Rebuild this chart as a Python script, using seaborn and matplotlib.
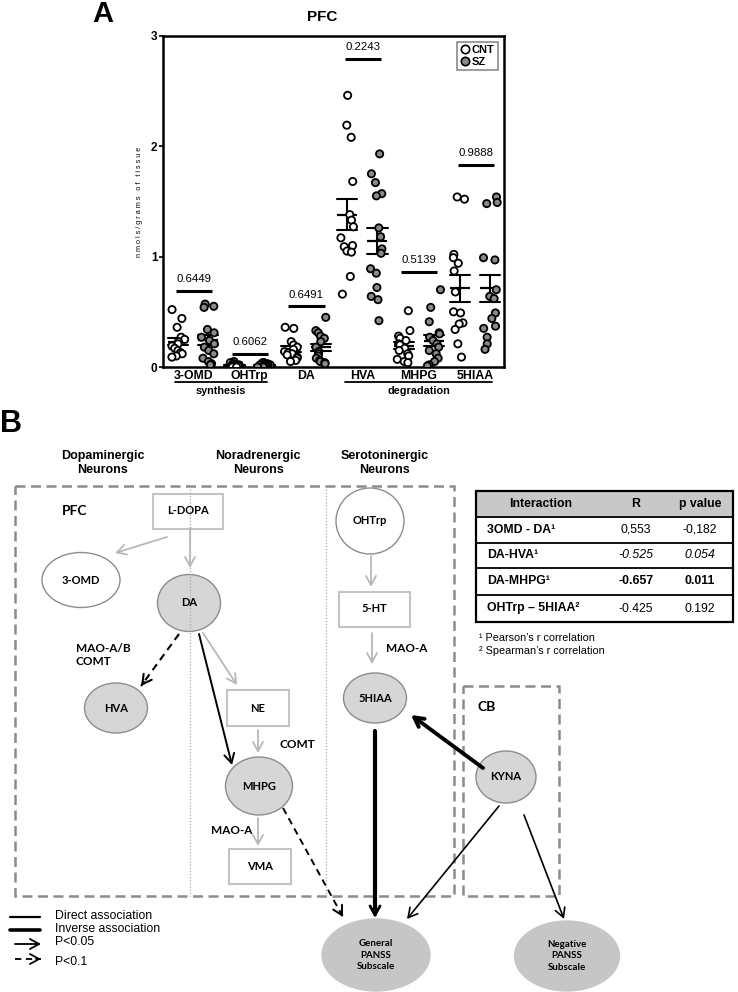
import warnings
import numpy as np
import pandas as pd
import seaborn as sns
import matplotlib.pyplot as plt
from matplotlib.patches import Ellipse, Rectangle
from matplotlib.lines import Line2D
from matplotlib.transforms import blended_transform_factory

warnings.filterwarnings('ignore')

# ---- panel A: metabolite levels (nmol/g tissue) ----
metabolites = ['3-OMD', 'OHTrp', 'DA', 'HVA', 'MHPG', '5HIAA']
groups = ['CNT', 'SZ']

omd_cnt = [0.52, 0.44, 0.36, 0.27, 0.25, 0.23, 0.21, 0.19, 0.17, 0.15, 0.13, 0.12, 0.10, 0.09]
omd_sz = [0.57, 0.55, 0.54, 0.34, 0.31, 0.27, 0.24, 0.21, 0.18, 0.15, 0.12, 0.08, 0.05, 0.03, 0.02]
ohtrp_cnt = [0.05, 0.04, 0.03, 0.03, 0.02, 0.02, 0.02, 0.01, 0.01, 0.01, 0.01, 0.00, 0.00, 0.00]
ohtrp_sz = [0.04, 0.04, 0.03, 0.03, 0.02, 0.02, 0.02, 0.01, 0.01, 0.01, 0.00, 0.00, 0.00]
da_cnt = [0.36, 0.35, 0.23, 0.20, 0.18, 0.16, 0.14, 0.13, 0.12, 0.11, 0.09, 0.08, 0.06, 0.05]
da_sz = [0.45, 0.33, 0.31, 0.28, 0.26, 0.23, 0.18, 0.14, 0.12, 0.10, 0.08, 0.06, 0.05, 0.04, 0.03]
hva_cnt = [2.46, 2.19, 2.08, 1.68, 1.38, 1.33, 1.27, 1.17, 1.10, 1.09, 1.05, 1.04, 0.82, 0.66]
hva_sz = [1.93, 1.75, 1.67, 1.57, 1.55, 1.26, 1.18, 1.07, 1.03, 0.89, 0.85, 0.72, 0.64, 0.61, 0.42]
mhpg_cnt = [0.51, 0.33, 0.28, 0.26, 0.24, 0.21, 0.20, 0.17, 0.15, 0.12, 0.10, 0.07, 0.05, 0.04]
mhpg_sz = [0.70, 0.54, 0.41, 0.31, 0.30, 0.27, 0.24, 0.21, 0.18, 0.15, 0.12, 0.08, 0.05, 0.02, 0.01]
hiaa_cnt = [1.54, 1.52, 1.02, 0.99, 0.94, 0.87, 0.68, 0.50, 0.49, 0.40, 0.39, 0.34, 0.21, 0.09]
hiaa_sz = [1.54, 1.49, 1.48, 0.99, 0.97, 0.70, 0.64, 0.62, 0.49, 0.44, 0.37, 0.35, 0.27, 0.21, 0.16]

p_values = ['0.6449', '0.6062', '0.6491', '0.2243', '0.5139', '0.9888']

# ---- panel B: correlation table ----
table_pairs = ['3OMD - DA\u00b9', 'DA-HVA\u00b9', 'DA-MHPG\u00b9', 'OHTrp \u2013 5HIAA\u00b2']
table_r = ['0,553', '-0.525', '-0.657', '-0.425']
table_p = ['-0,182', '0.054', '0.011', '0.192']

values = {
    ('3-OMD', 'CNT'): omd_cnt, ('3-OMD', 'SZ'): omd_sz,
    ('OHTrp', 'CNT'): ohtrp_cnt, ('OHTrp', 'SZ'): ohtrp_sz,
    ('DA', 'CNT'): da_cnt, ('DA', 'SZ'): da_sz,
    ('HVA', 'CNT'): hva_cnt, ('HVA', 'SZ'): hva_sz,
    ('MHPG', 'CNT'): mhpg_cnt, ('MHPG', 'SZ'): mhpg_sz,
    ('5HIAA', 'CNT'): hiaa_cnt, ('5HIAA', 'SZ'): hiaa_sz,
}
rows = []
for (m, g), vals in values.items():
    for v in vals:
        rows.append({'metabolite': m, 'group': g, 'value': v})
df = pd.DataFrame(rows)

sns.set_theme(style='white')
plt.rcParams['font.family'] = ['Liberation Sans', 'DejaVu Sans']
plt.rcParams['text.color'] = 'black'
plt.rcParams['axes.labelcolor'] = 'black'
plt.rcParams['xtick.color'] = 'black'
plt.rcParams['ytick.color'] = 'black'
LATO = ['Lato', 'DejaVu Sans']

np.random.seed(7)
fig = plt.figure(figsize=(7.38, 9.92), dpi=100)

# ================= panel A =================
ax = fig.add_axes([0.221, 0.630, 0.462, 0.334])
# an empty middle hue level keeps each cloud narrow and the pair well apart
sns.stripplot(data=df, x='metabolite', y='value', hue='group', order=metabolites,
              hue_order=['CNT', 'gap', 'SZ'], dodge=True, jitter=0.37,
              palette={'CNT': 'white', 'gap': 'white', 'SZ': '#8a8a8a'}, size=5.2,
              linewidth=1.3, edgecolor='black', legend=False, ax=ax)
sns.pointplot(data=df, x='metabolite', y='value', hue='group', order=metabolites,
              hue_order=groups, dodge=0.533, errorbar='se',
              palette={'CNT': 'black', 'SZ': 'black'}, markers='_', linestyles='none',
              markersize=15, markeredgewidth=1.6, capsize=0.36,
              err_kws={'linewidth': 1.5}, legend=False, ax=ax)

ax.set_xlim(-0.53, 5.51)
ax.set_ylim(0, 3)
ax.set_yticks([0, 1, 2, 3])
ax.set_yticklabels(['0', '1', '2', '3'], fontweight='bold', fontsize=8.5)
ax.set_xticks(range(len(metabolites)))
ax.set_xticklabels(metabolites, fontweight='bold', fontsize=8.8)
ax.tick_params(axis='x', length=0, pad=2)
ax.tick_params(axis='y', length=3, width=1.2, left=True, pad=1)
ax.set_xlabel('')
ax.set_ylabel('n m o l s / g r a m s   o f   t i s s u e', fontsize=5.2, labelpad=6)
for sp in ax.spines.values():
    sp.set_visible(True)
    sp.set_color('black')
    sp.set_linewidth(1.8)

# p-value brackets over each CNT/SZ pair
bracket_y = [0.69, 0.12, 0.55, 2.79, 0.86, 1.83]
for i, (p, yb) in enumerate(zip(p_values, bracket_y)):
    x0, x1 = i - 0.31, i + 0.33
    ax.plot([x0, x1], [yb, yb], color='black', lw=2.2, solid_capstyle='butt')
    ax.text((x0 + x1) / 2, yb + 0.06, p, ha='center', va='bottom', fontsize=8.2)

handles = [Line2D([], [], marker='o', ls='none', markerfacecolor='white', markeredgecolor='black',
                  markeredgewidth=1.2, markersize=6),
           Line2D([], [], marker='o', ls='none', markerfacecolor='#8a8a8a', markeredgecolor='black',
                  markeredgewidth=1.2, markersize=6)]
leg = ax.legend(handles, groups, loc='upper right', bbox_to_anchor=(0.982, 0.982), fancybox=False,
                edgecolor='#6e6e6e', prop={'weight': 'bold', 'size': 8}, handlelength=0.8,
                handletextpad=0.2, labelspacing=0.15, borderpad=0.3, borderaxespad=0)
leg.get_frame().set_linewidth(1.2)

# group brackets under the x axis
tr = blended_transform_factory(ax.transData, ax.transAxes)
for label, x0, x1 in [('synthesis', -0.32, 1.31), ('degradation', 2.7, 5.3)]:
    ax.plot([x0, x1], [-0.046, -0.046], color='black', lw=1.3, transform=tr, clip_on=False)
    ax.text((x0 + x1) / 2, -0.058, label, ha='center', va='top', fontsize=7.8,
            fontweight='bold', transform=tr)

# ================= overlay (pixel coordinates) =================
ov = fig.add_axes([0, 0, 1, 1])
ov.patch.set_alpha(0)
ov.set_xlim(0, 738)
ov.set_ylim(992, 0)
ov.axis('off')

ov.text(103, 14, 'A', fontsize=21, fontweight='bold', ha='center', va='center')
ov.text(322, 17, 'PFC', fontsize=11, fontweight='bold', ha='center', va='center')
ov.text(11, 424, 'B', fontsize=22, fontweight='bold', ha='center', va='center')

for x, lab in [(103, 'Dopaminergic\nNeurons'), (258, 'Noradrenergic\nNeurons'),
               (385, 'Serotoninergic\nNeurons')]:
    ov.text(x, 463, lab, ha='center', va='center', fontsize=9, fontweight='bold', linespacing=1.2)

dash = (0, (4, 2.2))
ov.add_patch(Rectangle((15, 486), 439, 410, fill=False, edgecolor='#8c8c8c', lw=1.8, ls=dash))
ov.add_patch(Rectangle((463, 686), 96, 210, fill=False, edgecolor='#8c8c8c', lw=1.8, ls=dash))
for x in [190, 326]:
    ov.plot([x, x], [486, 896], color='#a8a8a8', lw=0.9, ls=(0, (1, 1.5)))

ov.text(62, 511, 'PFC', fontsize=10, fontweight='bold', family=LATO, va='center')
ov.text(477, 707, 'CB', fontsize=10, fontweight='bold', family=LATO, va='center')

fill = '#d6d6d6'
edge = '#8c8c8c'
garrow = '#b8b8b8'


def ellipse(cx, cy, w, h, label, face=fill, ec=edge, fs=8):
    ov.add_patch(Ellipse((cx, cy), w, h, facecolor=face, edgecolor=ec, lw=1.0))
    ov.text(cx, cy, label, ha='center', va='center', fontsize=fs, fontweight='bold',
            family=LATO, linespacing=1.3)


def box(cx, cy, w, h, label):
    ov.add_patch(Rectangle((cx - w / 2, cy - h / 2), w, h, facecolor='white',
                           edgecolor='#c4c4c4', lw=1.5))
    ov.text(cx, cy, label, ha='center', va='center', fontsize=8, fontweight='bold', family=LATO)


def arrow(p0, p1, color='black', lw=1.2, dashed=False):
    x0, y0 = p0
    x1, y1 = p1
    if dashed:
        ov.plot([x0, x1], [y0, y1], color=color, lw=lw, ls=(0, (3.5, 2.5)))
        d = np.hypot(x1 - x0, y1 - y0)
        x0, y0 = x1 - (x1 - x0) / d * 5, y1 - (y1 - y0) / d * 5
    ov.annotate('', xy=(x1, y1), xytext=(x0, y0),
                arrowprops=dict(arrowstyle='->,head_length=0.55,head_width=0.3', color=color,
                                lw=lw, shrinkA=0, shrinkB=0))


# boxes and gray pathway arrows
box(188, 511, 70, 35, 'L-DOPA')
box(258, 708, 62, 36, 'NE')
box(260, 866, 62, 35, 'VMA')
box(374, 609, 71, 35, '5-HT')
arrow((167, 537), (115, 553), color=garrow, lw=1.3)
arrow((190, 528), (190, 568), color=garrow, lw=1.3)
arrow((203, 633), (237, 685), color=garrow, lw=1.3)
arrow((258, 730), (258, 753), color=garrow, lw=1.3)
arrow((258, 818), (258, 846), color=garrow, lw=1.3)
arrow((371, 556), (371, 587), color=garrow, lw=1.3)
arrow((372, 633), (372, 664), color=garrow, lw=1.3)

ellipse(81, 580, 78, 55, '3-OMD', face='white')
ellipse(189, 603, 63, 57, 'DA')
ellipse(116, 708, 63, 50, 'HVA')
ellipse(259, 786, 67, 58, 'MHPG')
ov.add_patch(Ellipse((370, 521), 68, 66, facecolor='white', edgecolor=edge, lw=1.0))
ov.text(370, 521, 'OHTrp', ha='center', va='center', fontsize=8, fontweight='bold', family=LATO)
ellipse(375, 698, 63, 50, '5HIAA')
ellipse(506, 777, 60, 52, 'KYNA')
ellipse(376, 955, 108, 72, 'General\nPANSS\nSubscale', face='#c6c6c6', ec='#c6c6c6', fs=7)
ellipse(567, 956, 105, 70, 'Negative\nPANSS\nSubscale', face='#c6c6c6', ec='#c6c6c6', fs=7)

for x, y, lab in [(76, 655, 'MAO-A/B\nCOMT'), (280, 744, 'COMT'), (211, 830, 'MAO-A'),
                  (386, 648, 'MAO-A')]:
    ov.text(x, y, lab, ha='left', va='center', fontsize=8.5, fontweight='bold', family=LATO,
            linespacing=1.25)

# association arrows
arrow((179, 634), (141, 686), lw=1.5, dashed=True)
arrow((199, 634), (232, 765), lw=1.4)
arrow((283, 808), (343, 917), lw=1.4, dashed=True)
ov.plot([375, 375], [731, 912], color='black', lw=3.0)
arrow((375, 905), (375, 918), lw=2.0)
arrow((483, 768), (411, 715), lw=2.8)
arrow((499, 806), (407, 919), lw=1.2)
arrow((524, 815), (564, 919), lw=1.2)

# legend of association types
ov.plot([10, 40], [917, 917], color='black', lw=1.6)
ov.plot([10, 40], [930, 930], color='black', lw=2.6)
arrow((15, 944), (41, 944), lw=1.3)
arrow((15, 959), (41, 959), lw=1.3, dashed=True)
for y, lab in [(916, 'Direct association'), (929, 'Inverse association'), (942, 'P<0.05'),
               (962, 'P<0.1')]:
    ov.text(55, y, lab, ha='left', va='center', fontsize=8.8)

# correlation table
tl, trt = 476, 733
edges = [491, 517, 543, 568, 595, 622]
ov.add_patch(Rectangle((tl, edges[0]), trt - tl, edges[1] - edges[0], facecolor='#c8c8c8',
                       edgecolor='none'))
for y in edges[1:-1]:
    ov.plot([tl, trt], [y, y], color='black', lw=1.3)
ov.add_patch(Rectangle((tl, edges[0]), trt - tl, edges[-1] - edges[0], fill=False,
                       edgecolor='black', lw=1.6))
hy = (edges[0] + edges[1]) / 2
for x, lab in [(541, 'Interaction'), (636, 'R'), (700, 'p value')]:
    ov.text(x, hy, lab, ha='center', va='center', fontsize=8.8, fontweight='bold')
cell_style = [('normal', 'normal'), ('italic', 'normal'), ('normal', 'bold'), ('normal', 'normal')]
for i, (pair, r, p) in enumerate(zip(table_pairs, table_r, table_p)):
    y = (edges[i + 1] + edges[i + 2]) / 2
    st, wt = cell_style[i]
    ov.text(487, y, pair, ha='left', va='center', fontsize=8.8, fontweight='bold')
    ov.text(636, y, r, ha='center', va='center', fontsize=8.8, style=st, fontweight=wt)
    ov.text(700, y, p, ha='center', va='center', fontsize=8.8, style=st, fontweight=wt)
ov.text(479, 638, '\u00b9 Pearson\u2019s r correlation', ha='left', va='center', fontsize=7.8)
ov.text(479, 651, '\u00b2 Spearman\u2019s r correlation', ha='left', va='center', fontsize=7.8)

fig.savefig('out.png', dpi=100)
